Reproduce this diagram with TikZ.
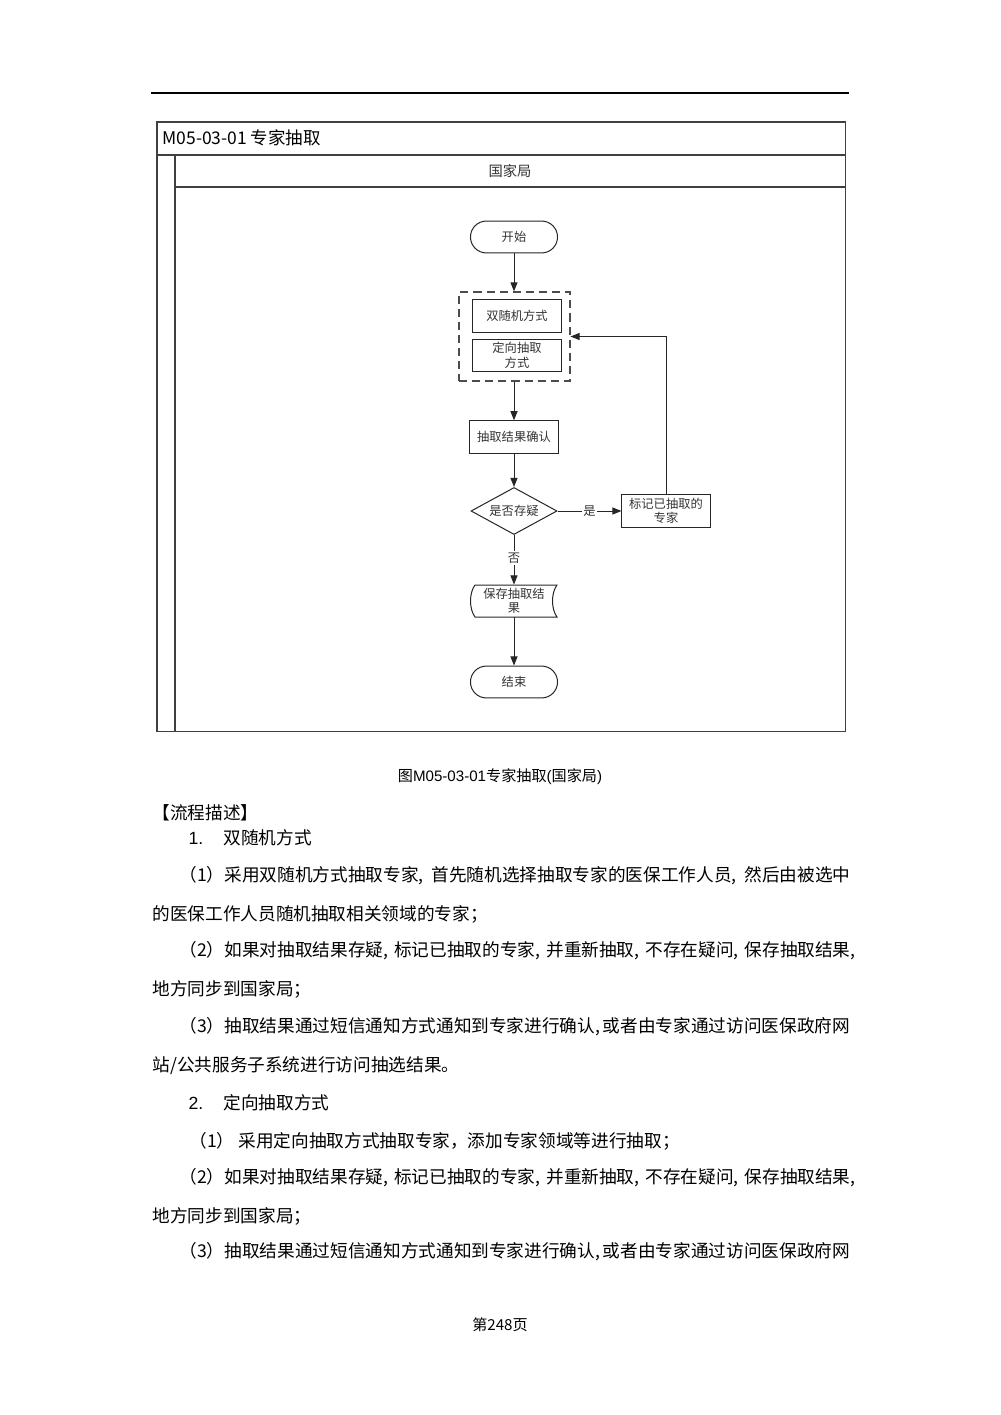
\documentclass[tikz,border=0pt]{standalone}
\usepackage{fontspec}
\setmainfont{Noto Sans CJK SC}
\newfontfamily\latinsf{Liberation Sans}
\usetikzlibrary{shapes.geometric, arrows.meta}
\XeTeXlinebreaklocale "zh"
\XeTeXlinebreakskip = 0pt plus 1pt minus 0.5pt
\newlength\pxu
\setlength\pxu{0.595pt}
\newcommand\spreadline[2]{\makebox[#1\pxu][s]{#2}}

\begin{document}
\begin{tikzpicture}[x=0.595pt,y=0.595pt,yscale=-1,xscale=1,
  line width=0.6pt,
  laneframe/.style={draw=black!75, line width=0.6pt},
  flowtxt/.style={font=\fontsize{7.3}{8.6}\selectfont, text=black!80, align=center, inner sep=0pt},
  terminal/.style={flowtxt, draw=black!85, rounded corners=9.5pt, minimum width=51.8pt, minimum height=19pt},
  procbox/.style={flowtxt, draw=black!85, minimum width=52.4pt, minimum height=19.3pt},
  decision/.style={flowtxt, draw=black!85, diamond, aspect=1.83, minimum width=51.2pt, minimum height=28pt},
  dashgrp/.style={draw=black!70, dash pattern=on 4.8pt off 3pt, line width=0.7pt, minimum width=66pt, minimum height=53pt},
  flow/.style={draw=black!85, -{Triangle[width=4.2pt,length=5.4pt]}},
  edgelbl/.style={flowtxt, fill=white, inner sep=1pt},
  bodytxt/.style={anchor=west, inner sep=0pt, font=\fontsize{10.5}{12}\selectfont},
  pagetxt/.style={inner sep=0pt, font=\fontsize{9}{11}\selectfont},
]
\useasboundingbox (0,0) rectangle (1000,1415);

%Straight Lines: page header rule
\draw [line width=1.2pt] (151,93) -- (849,93) ;

%Shape: Rectangle: swimlane frame
\draw [laneframe] (157,122) rectangle (845,731) ;
\draw [laneframe] (157,155) -- (845,155) ;
\draw [laneframe] (175,155) -- (175,731) ;
\draw [laneframe] (175,187) -- (845,187) ;

% Text Node
\node [anchor=west, inner sep=0pt, font=\fontsize{10.4}{12}\selectfont] (title) at (162,138) {M05-03-01 专家抽取};
% Text Node
\node [inner sep=0pt, font=\fontsize{8.5}{10}\selectfont, text=black!80] (lane) at (510,171) {国家局};

%Flow chart nodes
\node [terminal] (start) at (514,237) {开始};
\node [dashgrp] (grp) at (514.5,336.5) {};
\node [procbox] (dual) at (517,316) {双随机方式};
\node [procbox] (direct) at (517,355.5) {定向抽取\\方式};
\node [procbox] (confirm) at (514,437) {抽取结果确认};
\node [decision] (doubt) at (514,511) {是否存疑};
\node [procbox] (mark) at (666,511) {标记已抽取的\\专家};
\node [flowtxt, minimum width=52.4pt, minimum height=19pt] (save) at (514,601) {保存抽取结\\果};
\node [terminal] (finish) at (514,682) {结束};

%Shape: Stored data
\draw [black!85] (475,585) -- (557,585) .. controls (551,593) and (551,609) .. (557,617) -- (475,617) .. controls (469,609) and (469,593) .. cycle ;

%Connectors
\draw [flow] (start) -- (start |- grp.north) ;
\draw [flow] (grp.south -| confirm.north) -- (confirm.north) ;
\draw [flow] (confirm) -- (doubt) ;
\draw [flow] (doubt) -- node [edgelbl] {是} (mark) ;
\draw [flow] (mark.north) |- (grp.east) ;
\draw [flow] (doubt) -- node [edgelbl, pos=0.47] {否} (save) ;
\draw [flow] (save) -- (finish) ;

% Caption
\node [pagetxt] (caption) at (500,777) {图{\latinsf M05-03-01}专家抽取{\latinsf (}国家局{\latinsf )}};

% Body text
\node [bodytxt] (head) at (152,813) {【流程描述】};
\node [bodytxt] (numa) at (188,838) {\latinsf 1.};
\node [bodytxt] (secta) at (223,838) {双随机方式};
\node [bodytxt] (pa1) at (179,876) {\spreadline{671}{（1）采用双随机方式抽取专家, 首先随机选择抽取专家的医保工作人员, 然后由被选中}};
\node [bodytxt] (pa1b) at (152,914) {的医保工作人员随机抽取相关领域的专家；};
\node [bodytxt] (pa2) at (179,951) {\spreadline{676}{（2）如果对抽取结果存疑, 标记已抽取的专家, 并重新抽取, 不存在疑问, 保存抽取结果,}};
\node [bodytxt] (pa2b) at (152,989) {地方同步到国家局；};
\node [bodytxt] (pa3) at (179,1027) {\spreadline{670}{（3）抽取结果通过短信通知方式通知到专家进行确认, 或者由专家通过访问医保政府网}};
\node [bodytxt] (pa3b) at (152,1066) {站/公共服务子系统进行访问抽选结果。};
\node [bodytxt] (numb) at (188,1103) {\latinsf 2.};
\node [bodytxt] (sectb) at (223,1103) {定向抽取方式};
\node [bodytxt] (pb1) at (189,1141) {（1） 采用定向抽取方式抽取专家，添加专家领域等进行抽取；};
\node [bodytxt] (pb2) at (179,1178) {\spreadline{676}{（2）如果对抽取结果存疑, 标记已抽取的专家, 并重新抽取, 不存在疑问, 保存抽取结果,}};
\node [bodytxt] (pb2b) at (152,1216) {地方同步到国家局；};
\node [bodytxt] (pb3) at (179,1252) {\spreadline{670}{（3）抽取结果通过短信通知方式通知到专家进行确认, 或者由专家通过访问医保政府网}};

% Page number
\node [pagetxt] (pageno) at (500,1325) {第248页};

\end{tikzpicture}
\end{document}
